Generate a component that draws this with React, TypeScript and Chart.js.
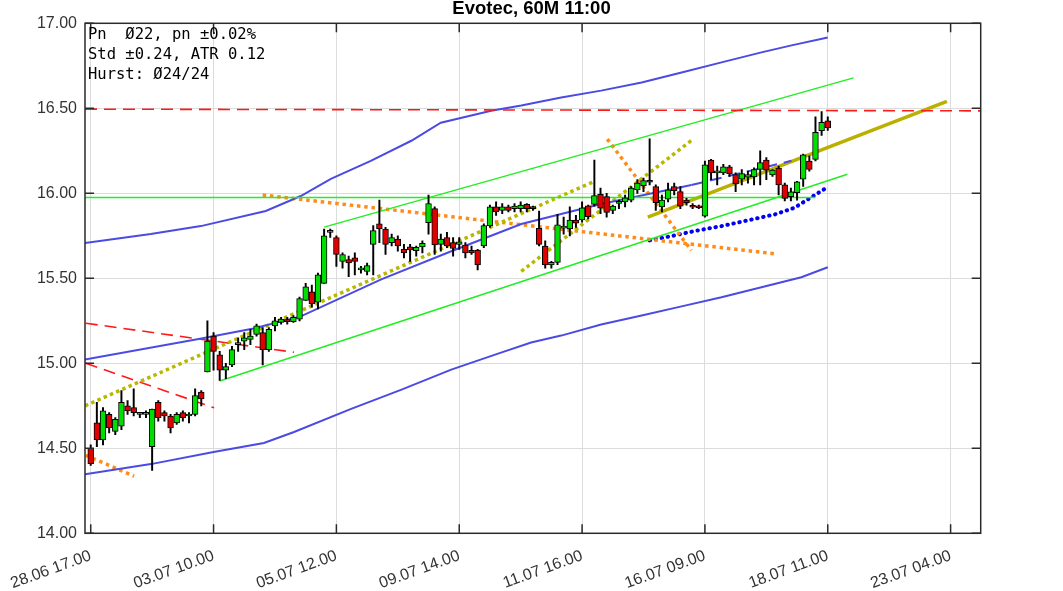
import React, { useEffect, useRef } from "react";
import { Chart, registerables } from "chart.js";

Chart.register(...registerables);

// ---------- DATA ----------
const opens = [14.50,14.65,14.55,14.70,14.60,14.63,14.75,14.74,14.70,14.70,
14.51,14.77,14.71,14.69,14.65,14.71,14.69,14.70,14.83,14.95,
15.16,15.05,14.96,14.99,15.11,15.13,15.14,15.17,15.18,15.08,
15.22,15.24,15.255,15.245,15.26,15.37,15.42,15.36,15.47,15.77,
15.74,15.60,15.61,15.62,15.55,15.54,15.70,15.82,15.79,15.71,
15.73,15.67,15.685,15.663,15.685,15.827,15.91,15.70,15.74,15.71,
15.70,15.696,15.665,15.666,15.69,15.81,15.92,15.90,15.92,15.91,
15.91,15.935,15.915,15.794,15.69,15.578,15.594,15.795,15.79,15.843,
15.843,15.927,15.935,15.994,15.98,15.90,15.94,15.95,15.96,16.02,
16.045,16.075,16.04,15.92,15.965,16.04,16.01,15.96,15.92,15.92,
15.866,16.195,16.12,16.12,16.155,16.11,16.083,16.095,16.097,16.14,
16.195,16.108,16.148,16.05,15.98,16.004,16.083,16.19,16.20,16.368,
16.427];

const highs = [14.52,14.77,14.74,14.71,14.68,14.84,14.78,14.85,14.71,14.72,
14.73,14.78,14.72,14.70,14.71,14.72,14.71,14.85,14.84,15.25,
15.18,15.07,15.00,15.10,15.15,15.18,15.20,15.23,15.21,15.21,
15.27,15.27,15.27,15.28,15.39,15.47,15.46,15.53,15.79,15.79,
15.75,15.65,15.63,15.65,15.57,15.59,15.81,15.96,15.80,15.76,
15.75,15.70,15.70,15.69,15.72,15.99,15.92,15.76,15.77,15.74,
15.74,15.71,15.69,15.67,15.82,15.93,15.95,15.94,15.93,15.94,
15.95,15.94,15.925,15.896,15.72,15.60,15.876,15.86,15.92,15.87,
15.95,15.93,16.196,16.03,16.00,15.93,15.96,15.99,16.04,16.08,
16.09,16.32,16.05,15.99,16.06,16.06,16.04,15.97,15.94,15.93,
16.19,16.20,16.16,16.17,16.165,16.12,16.14,16.13,16.15,16.25,
16.21,16.14,16.16,16.06,16.03,16.07,16.23,16.22,16.45,16.48,
16.45];

const lows = [14.40,14.51,14.52,14.59,14.58,14.61,14.70,14.69,14.68,14.68,
14.37,14.66,14.66,14.59,14.64,14.66,14.65,14.69,14.75,14.95,
14.96,14.90,14.91,14.98,15.07,15.08,15.11,15.16,14.99,15.07,
15.19,15.23,15.23,15.24,15.25,15.37,15.33,15.32,15.47,15.74,
15.57,15.56,15.51,15.52,15.53,15.52,15.52,15.71,15.64,15.69,
15.66,15.62,15.60,15.63,15.65,15.76,15.64,15.66,15.68,15.63,
15.67,15.62,15.64,15.55,15.68,15.80,15.87,15.88,15.89,15.89,
15.89,15.89,15.90,15.69,15.56,15.56,15.58,15.76,15.75,15.80,
15.83,15.85,15.925,15.88,15.86,15.88,15.91,15.92,15.95,16.00,
16.01,16.05,15.90,15.89,15.95,15.99,15.91,15.93,15.91,15.91,
15.86,16.08,16.05,16.11,16.10,16.01,16.05,16.06,16.05,16.05,
16.08,16.10,15.99,15.955,15.955,15.96,16.04,16.13,16.19,16.34,
16.37];

const closes = [14.41,14.55,14.72,14.62,14.67,14.77,14.72,14.71,14.705,14.71,
14.73,14.68,14.69,14.62,14.70,14.68,14.70,14.81,14.79,15.13,
15.07,14.96,14.98,15.08,15.115,15.15,15.16,15.22,15.08,15.20,
15.25,15.26,15.245,15.27,15.38,15.45,15.35,15.52,15.75,15.775,
15.64,15.64,15.59,15.60,15.555,15.575,15.78,15.79,15.70,15.74,
15.69,15.65,15.667,15.682,15.706,15.94,15.696,15.73,15.69,15.676,
15.715,15.65,15.65,15.578,15.81,15.92,15.89,15.92,15.90,15.925,
15.93,15.91,15.91,15.70,15.578,15.594,15.814,15.804,15.843,15.824,
15.915,15.862,15.986,15.912,15.888,15.925,15.953,15.974,16.03,16.06,
16.075,16.065,15.945,15.96,16.02,16.015,15.925,15.945,15.918,15.915,
16.167,16.12,16.125,16.155,16.115,16.055,16.116,16.11,16.14,16.18,
16.136,16.136,16.05,15.97,16.008,16.067,16.226,16.14,16.358,16.417,
16.384];

const xTickValues = [0, 20, 40, 60, 80, 100, 120, 140];
const xTickLabels = ["28.06 17.00", "03.07 10.00", "05.07 12.00", "09.07 14.00",
  "11.07 16.00", "16.07 09.00", "18.07 11.00", "23.07 04.00"];
const yTickValues = [14, 14.5, 15, 15.5, 16, 16.5, 17];

const titleText = "Evotec, 60M 11:00";
const infoLines = ["Pn  Ø22, pn ±0.02%", "Std ±0.24, ATR 0.12", "Hurst: Ø24/24"];

// overlay lines (x = bar index, y = price)
const upperBandX = [-0.93, 9.78, 17.93, 28.5, 34.2, 39.1, 45.6, 52.2, 57.0, 65.2, 70.1, 76.6, 83.1, 89.7, 96.2, 102.7, 109.2, 114.1, 120];
const upperBandY = [15.707, 15.760, 15.807, 15.896, 15.984, 16.085, 16.191, 16.309, 16.415, 16.486, 16.516, 16.563, 16.604, 16.652, 16.711, 16.770, 16.829, 16.870, 16.917];

const lowerBandX = [-0.93, 9.8, 20.0, 28.2, 33.1, 42.4, 50.5, 58.7, 66.8, 71.7, 76.6, 83.1, 89.7, 96.2, 102.7, 109.2, 115.7, 120];
const lowerBandY = [14.348, 14.407, 14.478, 14.531, 14.596, 14.732, 14.844, 14.963, 15.063, 15.122, 15.163, 15.228, 15.281, 15.335, 15.388, 15.447, 15.506, 15.565];

const midLineX = [-0.93, 17.8, 26.5, 34.2, 47.3, 58.7, 70.1, 83.1, 97.8];
const midLineY = [15.022, 15.144, 15.205, 15.276, 15.494, 15.659, 15.819, 15.937, 16.049];
const midDashX = [97.8, 114.1];
const midDashY = [16.049, 16.191];

const redTopX = [-0.93, 144.9];
const redTopY = [16.495, 16.485];
const greenFlatX = [-0.93, 118];
const greenFlatY = [15.975, 15.975];

const greenUpX = [38.0, 124.2];
const greenUpY = [15.801, 16.679];
const greenLowX = [21.0, 123.2];
const greenLowY = [14.896, 16.112];

const oliveLongX = [-0.93, 81.8];
const oliveLongY = [14.750, 16.067];
const oliveShortX = [70.1, 98.1];
const oliveShortY = [15.541, 16.319];
const oliveThickX = [90.7, 139.4];
const oliveThickY = [15.860, 16.541];

const orangeShortX = [-0.8, 7.06];
const orangeShortY = [14.459, 14.336];
const orangeLongX = [28.0, 111.7];
const orangeLongY = [15.990, 15.643];
const orangeSteepX = [84.1, 97.8];
const orangeSteepY = [16.319, 15.664];

const blueDotX = [91.0, 94.5, 98.3, 102.7, 107.0, 111.4, 114.6, 116.8, 120.0];
const blueDotY = [15.723, 15.748, 15.778, 15.807, 15.841, 15.876, 15.915, 15.965, 16.037];

const redDashAX = [-0.8, 33.1];
const redDashAY = [15.236, 15.065];
const redDashBX = [-0.8, 20.1];
const redDashBY = [15.0, 14.738];

// ---------- HELPERS ----------
const pts = (xs: number[], ys: number[]) => xs.map((x, k) => ({ x, y: ys[k] }));

const lineDs = (xs: number[], ys: number[], color: string, width: number, dash: number[] = [], cap: CanvasLineCap = "butt") => ({
  type: "line" as const,
  data: pts(xs, ys),
  borderColor: color,
  backgroundColor: color,
  borderWidth: width,
  borderDash: dash,
  borderCapStyle: cap,
  pointRadius: 0,
  pointHoverRadius: 0,
  fill: false,
  tension: 0,
  order: 10,
});

const frameTicksPlugin = {
  id: "frameTicks",
  afterDatasetsDraw(chart: any) {
    const { ctx, chartArea } = chart;
    const { left, right, top, bottom } = chartArea;
    const xs = chart.scales.x;
    const ys = chart.scales.y;
    ctx.save();
    ctx.strokeStyle = "#2a2a2a";
    ctx.lineWidth = 1.5;
    ctx.strokeRect(left, top, right - left, bottom - top);
    ctx.beginPath();
    const tl = 9;
    xTickValues.forEach((v) => {
      const px = xs.getPixelForValue(v);
      ctx.moveTo(px, bottom);
      ctx.lineTo(px, bottom - tl);
      ctx.moveTo(px, top);
      ctx.lineTo(px, top + tl);
    });
    yTickValues.forEach((v) => {
      const py = ys.getPixelForValue(v);
      ctx.moveTo(left, py);
      ctx.lineTo(left + tl, py);
      ctx.moveTo(right, py);
      ctx.lineTo(right - tl, py);
    });
    ctx.stroke();
    // info text
    ctx.fillStyle = "#000";
    ctx.font = '15.5px "DejaVu Sans Mono", monospace';
    ctx.textAlign = "left";
    ctx.textBaseline = "alphabetic";
    infoLines.forEach((t, k) => {
      ctx.fillText(t, left + 3, top + 15.5 + k * 20.3);
    });
    ctx.restore();
  },
};

export default function App() {
  const ref = useRef<HTMLCanvasElement | null>(null);

  useEffect(() => {
    if (!ref.current) return;
    const idx = opens.map((_, i) => i);
    const wickData = idx.map((i) => ({ x: i, y: [lows[i], highs[i]] }));
    const bodyData = idx.map((i) => ({ x: i, y: [opens[i], closes[i]] }));
    const bodyColors = idx.map((i) => (closes[i] >= opens[i] ? "#00dd00" : "#e00000"));

    const labelFont = { family: '"Liberation Sans", Arial, sans-serif', size: 16 };

    const chart = new Chart(ref.current, {
      type: "bar",
      data: {
        datasets: [
          {
            type: "bar",
            data: bodyData as any,
            backgroundColor: bodyColors,
            borderColor: "#000",
            borderWidth: 1,
            borderSkipped: false,
            barThickness: 5.8,
            minBarLength: 2,
            grouped: false,
            order: 0,
          } as any,
          {
            type: "bar",
            data: wickData as any,
            backgroundColor: "#000",
            borderWidth: 0,
            barThickness: 1.3,
            grouped: false,
            order: 1,
          } as any,
          lineDs(redTopX, redTopY, "#ff1a1a", 1.6, [12, 7]),
          lineDs(greenFlatX, greenFlatY, "#22ee22", 1.5),
          lineDs(upperBandX, upperBandY, "#4b4be3", 2),
          lineDs(lowerBandX, lowerBandY, "#4b4be3", 2),
          lineDs(midLineX, midLineY, "#4b4be3", 2),
          lineDs(midDashX, midDashY, "#4b4be3", 2, [12, 7]),
          lineDs(greenUpX, greenUpY, "#22ee22", 1.5),
          lineDs(greenLowX, greenLowY, "#22ee22", 1.5),
          lineDs(oliveLongX, oliveLongY, "#b8b800", 3.5, [3.5, 3.3]),
          lineDs(oliveShortX, oliveShortY, "#b8b800", 3.5, [3.5, 3.3]),
          lineDs(oliveThickX, oliveThickY, "#bbb000", 3.5),
          lineDs(orangeShortX, orangeShortY, "#ff8c1a", 3.5, [3.5, 3.8]),
          lineDs(orangeLongX, orangeLongY, "#ff8c1a", 3.5, [3.5, 3.8]),
          lineDs(orangeSteepX, orangeSteepY, "#ff8c1a", 3.5, [3.5, 3.8]),
          lineDs(blueDotX, blueDotY, "#0000f0", 4, [0.5, 5.6], "round"),
          lineDs(redDashAX, redDashAY, "#ff1a1a", 1.6, [12, 7]),
          lineDs(redDashBX, redDashBY, "#ff1a1a", 1.6, [12, 7]),
        ] as any,
      },
      options: {
        animation: false,
        responsive: false,
        devicePixelRatio: 1,
        layout: { padding: { left: 0, right: 0, top: 0, bottom: 0 } },
        plugins: {
          legend: { display: false },
          tooltip: { enabled: false },
          title: {
            display: true,
            text: titleText,
            color: "#000",
            font: { family: '"Liberation Sans", Arial, sans-serif', size: 18.5, weight: "bold", lineHeight: 1 },
            padding: { top: 0, bottom: 4.8 },
          },
        },
        scales: {
          x: {
            type: "linear",
            min: -0.93,
            max: 144.9,
            offset: false,
            afterBuildTicks: (s: any) => {
              s.ticks = xTickValues.map((v) => ({ value: v }));
            },
            afterFit: (s: any) => {
              s.height = 57.7;
              s.paddingLeft = 0;
              s.paddingRight = 0;
            },
            ticks: {
              autoSkip: false,
              minRotation: 20,
              maxRotation: 20,
              padding: 13,
              color: "#333",
              font: labelFont,
              callback: (v: any) => {
                const k = xTickValues.indexOf(Number(v));
                return k >= 0 ? xTickLabels[k] : "";
              },
            },
            grid: { color: "#dcdcdc", lineWidth: 1, drawTicks: false, offset: false },
            border: { display: false },
          },
          y: {
            type: "linear",
            position: "left",
            min: 14,
            max: 17,
            afterBuildTicks: (s: any) => {
              s.ticks = yTickValues.map((v) => ({ value: v }));
            },
            afterFit: (s: any) => {
              s.width = 85;
              s.paddingTop = 0;
              s.paddingBottom = 0;
            },
            ticks: {
              padding: 8,
              color: "#333",
              font: labelFont,
              callback: (v: any) => Number(v).toFixed(2),
            },
            grid: { color: "#dcdcdc", lineWidth: 1, drawTicks: false },
            border: { display: false },
          },
          yRight: {
            type: "linear",
            position: "right",
            min: 14,
            max: 17,
            afterFit: (s: any) => {
              s.width = 82.3;
              s.paddingTop = 0;
              s.paddingBottom = 0;
            },
            ticks: { display: false },
            grid: { display: false, drawTicks: false },
            border: { display: false },
          },
        },
      } as any,
      plugins: [frameTicksPlugin],
    });
    return () => chart.destroy();
  }, []);

  return (
    <div style={{ position: "absolute", left: 0, top: 0, width: 1063, height: 591, background: "#fff" }}>
      <canvas ref={ref} width={1063} height={591} style={{ display: "block" }} />
    </div>
  );
}
